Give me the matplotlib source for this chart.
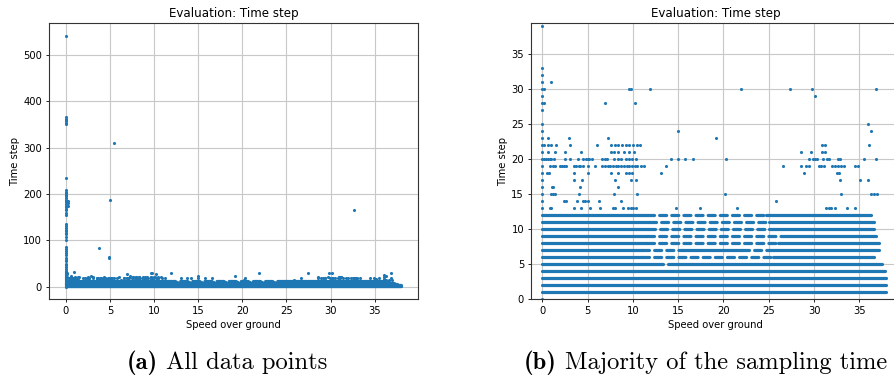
import matplotlib
matplotlib.use('Agg')
import matplotlib.pyplot as plt

# time-step rows (integer) that form the dense bands, with x extents of the
# dense part and of the thinned-out part of each row
row_levels = [1, 2, 3, 4, 5, 6, 7, 8, 9, 10, 11, 12]
row_dense = [
    [(0, 38.0)],
    [(0, 37.95)],
    [(0, 37.95)],
    [(0, 37.85)],
    [(0, 13.3), (13.9, 37.5)],
    [(0, 11.0), (25.5, 36.6)],
    [(0, 11.0), (15.5, 22.0), (25.0, 37.2)],
    [(0, 11.5), (26.0, 37.2)],
    [(0, 11.5), (27.0, 36.8)],
    [(0, 11.7), (25.0, 36.6)],
    [(0, 11.8), (25.0, 36.6)],
    [(0, 11.6), (24.7, 36.3)],
]
row_sparse = [
    [],
    [],
    [],
    [],
    [],
    [(11.0, 25.5)],
    [(11.0, 15.5), (22.0, 25.0)],
    [(11.5, 26.0)],
    [(11.5, 27.0)],
    [(11.7, 25.0)],
    [(11.8, 25.0)],
    [(11.6, 24.7)],
]

# isolated points (speed over ground, time step)
point_x = [
    0, 0, 0, 0, 0, 0, 0, 0, 0, 0, 0, 0, 0, 0, 0, 0, 0, 0, 0, 0,
    0.15, 0.15, 0.15, 0.15, 0.9,
    0.6, 0.6, 1.0, 1.5, 0.6, 1.4, 0.4, 0.6, 0.8, 1.0, 1.3, 0.8, 1.2, 1.4,
    0.5, 0.7, 1.1, 1.2, 1.0, 1.2, 1.4, 0.8, 1.0,
    2.0, 2.2, 2.4, 2.6, 2.5, 2.5, 2.4, 2.6, 2.9, 3.1, 3.1, 3.5, 3.7, 4.0,
    4.2, 4.5, 3.9, 4.3, 4.5, 4.8, 5.0, 3.5, 3.5, 4.2, 4.4, 4.0, 3.8, 4.5,
    4.7, 5.0, 3.5, 4.3, 5.3, 5.0, 5.0, 5.2, 5.5,
    6.0, 5.8, 6.6, 6.9, 7.1, 6.2, 6.4, 6.6, 6.9, 7.2, 7.5, 7.8, 8.1, 8.4,
    8.7, 9.0, 9.3, 9.6, 9.9, 10.2, 10.5, 10.9, 11.2,
    7.3, 7.6, 8.0, 8.3, 8.8, 9.2, 9.6, 10.0, 10.4, 10.8,
    7.6, 7.9, 8.3, 9.0, 9.6, 10.1,
    7.9, 8.3, 8.7, 9.2, 9.6, 9.9, 10.3,
    7.6, 8.3, 9.2, 9.6, 9.9, 8.0, 8.3, 7.9, 8.7,
    7.8, 8.0, 8.9, 9.5, 9.8, 10.0, 10.3, 9.8, 10.3, 10.4,
    13.1, 13.7, 14.2, 14.8, 15.0, 15.8, 16.6, 17.4, 20.2, 20.3, 21.5, 25.8,
    26.6,
    28.6, 28.6, 28.9, 29.1, 29.4, 29.4, 29.7, 29.9, 30.1, 30.3, 30.5, 30.8,
    31.1, 30.9, 31.2, 30.9, 31.2, 31.0, 31.4, 31.7, 32.0, 32.3, 32.6, 33.0,
    33.3, 32.7, 32.9, 32.5, 32.8, 32.9, 33.0, 31.3, 31.6, 31.9, 32.3, 33.6,
    34.5, 34.5, 34.9, 35.1, 35.5, 36.0, 36.0, 36.3, 36.1, 36.8, 36.3, 36.6,
    36.9,
    6.9, 9.6, 9.8, 10.2, 11.9, 15.0, 19.2, 21.9, 27.4, 29.8, 30.1, 36.8,
    0, 0,
    # large time steps
    0, 0, 0, 0, 0, 0, 0, 0, 0, 0, 0, 0, 0, 0, 0, 0, 0, 0, 0, 0, 0, 0,
    0, 0, 0, 0, 0, 0, 0, 0, 0, 0, 0, 0, 0, 0, 0, 0, 0, 0, 0, 0, 0, 0,
    0.2, 0.25, 0.2,
    5.5, 5.0, 3.8, 4.9, 4.9, 32.7,
]
point_y = [
    0, 13, 14, 15, 16, 17, 18, 19, 20, 21, 22, 23, 27, 28, 29, 30, 31, 32,
    33, 39,
    30, 28, 22, 20, 31,
    23, 22, 22, 22, 21, 21, 20, 20, 20, 20, 20, 19, 19, 19,
    18, 18, 16, 16, 15, 15, 15, 13, 13,
    19, 19, 19, 19, 21, 20, 14, 14, 23, 22, 20, 19, 19, 19,
    19, 19, 20, 21, 20, 20, 20, 18, 17, 16, 17, 15, 14, 14,
    14, 14, 13, 13, 13, 19, 18, 20, 20,
    22, 19, 20, 20, 20, 14, 13, 19, 19, 19, 19, 19, 19, 19,
    19, 19, 19, 19, 19, 19, 19, 19, 19,
    23, 22, 22, 22, 22, 22, 22, 22, 22, 22,
    21, 21, 21, 21, 21, 21,
    20, 20, 20, 20, 20, 20, 20,
    18, 18, 18, 18, 18, 17, 16, 15, 14,
    13, 13, 13, 13, 13, 13, 13, 17, 17, 15,
    18, 19, 20, 13, 20, 20, 20, 13, 15, 20, 13, 14,
    19,
    21, 19, 18, 19, 19, 20, 21, 20, 20, 20, 19, 19,
    19, 22, 22, 21, 21, 20, 20, 20, 19, 19, 19, 19,
    19, 20, 20, 18, 18, 17, 15, 13, 13, 13, 13, 13,
    13, 19, 19, 17, 20, 17, 25, 24, 22, 20, 15, 15,
    15,
    28, 30, 30, 28, 30, 24, 23, 30, 30, 30, 29, 30,
    24, 25,
    541, 365, 362, 360, 357, 354, 350, 234, 208, 205, 202, 198, 195, 192,
    188, 185, 182, 178, 175, 172, 168, 165,
    160, 155, 135, 130, 127, 123, 120, 117, 113, 108, 100, 85, 82, 78, 73,
    68, 63, 58, 55, 50, 46, 42,
    180, 185, 175,
    310, 187, 84, 65, 62, 166,
]

captions = [('(a)', 'All data points'), ('(b)', 'Majority of the sampling time')]

color = '#1f77b4'
plt.rcParams['font.size'] = 7.2


def draw_panel(ax):
    for level, dense, sparse in zip(row_levels, row_dense, row_sparse):
        for x0, x1 in dense:
            ax.hlines(level, x0, x1, colors=color, linewidth=2.3, capstyle='round', zorder=2)
        for x0, x1 in sparse:
            ax.hlines(level, x0, x1, colors=color, linewidth=2.3, capstyle='round',
                      linestyles=(0, (2.2, 1.6)), zorder=2)
    ax.scatter(point_x, point_y, s=5, color=color, linewidths=0, zorder=2)
    ax.set_title('Evaluation: Time step', fontsize=8.6, pad=4.5)
    ax.set_xlabel('Speed over ground', labelpad=2.5)
    ax.set_ylabel('Time step', labelpad=2.5)
    ax.grid(True, color='#c8c8c8', linewidth=0.8)
    ax.set_axisbelow(True)
    ax.tick_params(length=2.5, width=0.6, pad=2.5)
    for spine in ax.spines.values():
        spine.set_linewidth(0.8)
        spine.set_color('#333333')


fig = plt.figure(figsize=(8.94, 3.83), dpi=100)
ax_all = fig.add_axes([0.0548, 0.2185, 0.4128, 0.7206])
ax_zoom = fig.add_axes([0.594, 0.2185, 0.4128, 0.7206])

draw_panel(ax_all)
ax_all.set_xlim(-1.9, 39.9)
ax_all.set_ylim(-27, 568)
ax_all.set_yticks([0, 100, 200, 300, 400, 500])
ax_all.set_xticks([0, 5, 10, 15, 20, 25, 30, 35])

draw_panel(ax_zoom)
ax_zoom.set_xlim(-1.25, 39.5)
ax_zoom.set_ylim(0, 39.4)
ax_zoom.set_yticks([0, 5, 10, 15, 20, 25, 30, 35])
ax_zoom.set_xticks([0, 5, 10, 15, 20, 25, 30, 35])

# sub-captions: bold label then roman text, Computer Modern like the paper
renderer = fig.canvas.get_renderer()
for x_left, (label, text) in zip([127 / 894, 524 / 894], captions):
    t = fig.text(x_left, 0.0366, label, family='cmb10', fontsize=17.7, va='baseline')
    ext = t.get_window_extent(renderer)
    fig.text((ext.x1 + 8) / 894, 0.0366, text, family='cmr10', fontsize=17.7, va='baseline')

fig.savefig('out.png', dpi=100)
